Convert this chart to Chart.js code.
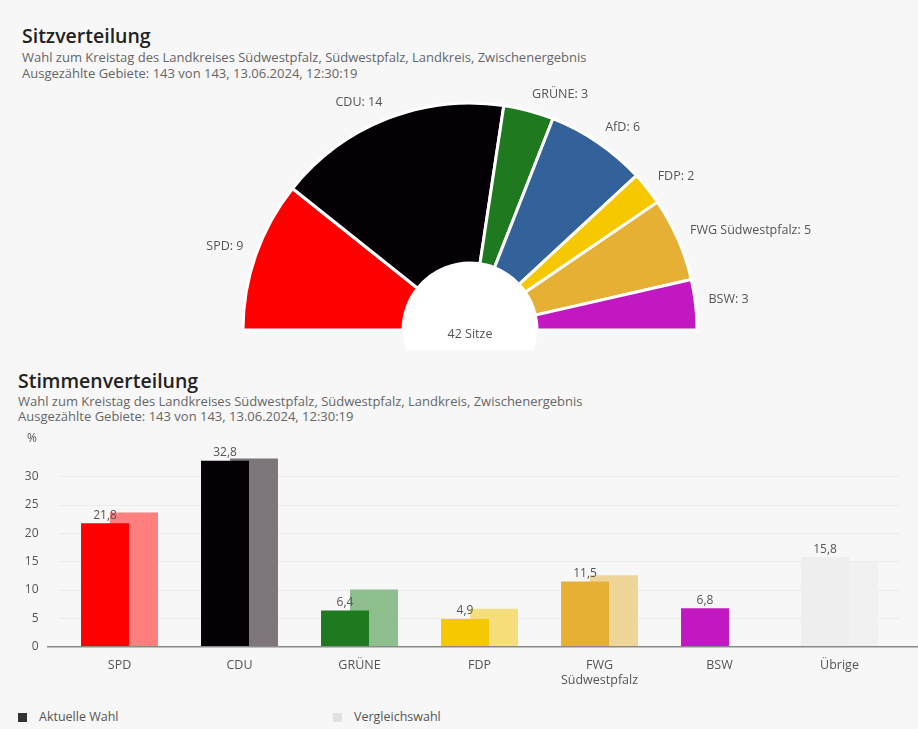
<!DOCTYPE html>
<html>
<head>
<meta charset="utf-8">
<script src="https://cdn.jsdelivr.net/npm/chart.js@4/dist/chart.umd.min.js"></script>
<style>
  body { margin: 0; background: #f7f7f7; font-family: "Open Sans", sans-serif; }
  #page { position: relative; width: 918px; height: 729px; overflow: hidden; }
  .title { position: absolute; font-size: 19.5px; font-weight: 600; color: #222; }
  .sub { position: absolute; font-size: 13px; color: #666; white-space: nowrap; }
  #seatWrap { position: absolute; left: 0; top: 80px; width: 918px; height: 270px; }
  #voteWrap { position: absolute; left: 0; top: 410px; width: 918px; height: 290px; }
  .legend { position: absolute; top: 708px; font-size: 12.5px; color: #555; }
  .legend span { display: inline-block; width: 9px; height: 9px; margin-right: 12px; vertical-align: -1px; }
</style>
</head>
<body>
<div id="page">
  <div class="title" style="left:22px;top:22px">Sitzverteilung</div>
  <div class="sub" style="left:22px;top:48px">Wahl zum Kreistag des Landkreises Südwestpfalz, Südwestpfalz, Landkreis, Zwischenergebnis</div>
  <div class="sub" style="left:22px;top:64px">Ausgezählte Gebiete: 143 von 143, 13.06.2024, 12:30:19</div>
  <div id="seatWrap"><canvas id="seatChart"></canvas></div>

  <div class="title" style="left:18px;top:367px">Stimmenverteilung</div>
  <div class="sub" style="left:18px;top:392px">Wahl zum Kreistag des Landkreises Südwestpfalz, Südwestpfalz, Landkreis, Zwischenergebnis</div>
  <div class="sub" style="left:18px;top:407px">Ausgezählte Gebiete: 143 von 143, 13.06.2024, 12:30:19</div>
  <div id="voteWrap"><canvas id="voteChart"></canvas></div>

  <div class="legend" style="left:18px"><span style="background:#333"></span>Aktuelle Wahl</div>
  <div class="legend" style="left:333px"><span style="background:#e2e2e2"></span>Vergleichswahl</div>
</div>
<script>
// Sitzverteilung
const seatParties = ['SPD', 'CDU', 'GRÜNE', 'AfD', 'FDP', 'FWG Südwestpfalz', 'BSW'];
const seats = [9, 14, 3, 6, 2, 5, 3];
const seatColors = ['#ff0000', '#050005', '#1f7a1f', '#336199', '#f5c800', '#e6b035', '#c118c1'];

// Stimmenverteilung
const voteParties = ['SPD', 'CDU', 'GRÜNE', 'FDP', ['FWG', 'Südwestpfalz'], 'BSW', 'Übrige'];
const currentVotes = [21.8, 32.8, 6.4, 4.9, 11.5, 6.8, 15.8];
const previousVotes = [23.7, 33.2, 10.1, 6.7, 12.6, null, 14.9];
const currentColors = ['#ff0000', '#050005', '#1f7a1f', '#f5c800', '#e6b035', '#c118c1', '#eeeeee'];
const previousColors = ['#ff7f7f', '#7d777b', '#8ebd8e', '#f6de7c', '#f0d598', '#e0a0e0', '#f1f1f1'];
const yTicks = [0, 5, 10, 15, 20, 25, 30];

Chart.defaults.font.family = '"Open Sans", sans-serif';
Chart.defaults.color = '#555';

const seatLabels = {
  id: 'seatLabels',
  beforeDatasetsDraw(chart) {
    const arc = chart.getDatasetMeta(0).data[0];
    if (!arc) return;
    const c = chart.ctx;
    c.save();
    c.fillStyle = '#ffffff';
    c.beginPath();
    c.arc(arc.x, arc.y, arc.innerRadius, 0, Math.PI * 2);
    c.fill();
    c.restore();
  },
  afterDatasetsDraw(chart) {
    const c = chart.ctx;
    const meta = chart.getDatasetMeta(0);
    c.save();
    c.font = '12.5px "Open Sans", sans-serif';
    c.fillStyle = '#555';
    c.textBaseline = 'middle';
    meta.data.forEach((a, i) => {
      const mid = (a.startAngle + a.endAngle) / 2;
      const r = a.outerRadius + 13;
      const x = a.x + Math.cos(mid) * r;
      const y = a.y + Math.sin(mid) * r - 4;
      c.textAlign = Math.cos(mid) < 0 ? 'right' : 'left';
      c.fillText(seatParties[i] + ': ' + seats[i], x, y);
    });
    const a0 = meta.data[0];
    c.textAlign = 'center';
    c.fillText(seats.reduce((s, v) => s + v, 0) + ' Sitze', a0.x, a0.y + 4);
    c.restore();
  }
};

new Chart(document.getElementById('seatChart'), {
  type: 'doughnut',
  data: {
    labels: seatParties,
    datasets: [{
      data: seats,
      backgroundColor: seatColors,
      borderColor: '#ffffff',
      borderWidth: 3
    }]
  },
  options: {
    responsive: true,
    maintainAspectRatio: false,
    animation: false,
    rotation: -90,
    circumference: 180,
    cutout: '29.5%',
    layout: { padding: { left: 241.5, right: 219.5, top: 21.5, bottom: 18.5 } },
    plugins: { legend: { display: false }, tooltip: { enabled: false } }
  },
  plugins: [seatLabels]
});

const barExtras = {
  id: 'barExtras',
  afterDraw(chart) {
    const c = chart.ctx;
    const y0 = chart.scales.y.getPixelForValue(0);
    c.save();
    c.strokeStyle = '#8a8a8a';
    c.lineWidth = 1.5;
    c.beginPath();
    c.moveTo(47, y0);
    c.lineTo(918, y0);
    c.stroke();
    c.font = '12px "Open Sans", sans-serif';
    c.fillStyle = '#555';
    c.textAlign = 'center';
    c.textBaseline = 'bottom';
    chart.getDatasetMeta(0).data.forEach((bar, i) => {
      c.fillText(currentVotes[i].toFixed(1).replace('.', ','), bar.x, bar.y - 2);
    });
    c.textAlign = 'right';
    c.textBaseline = 'middle';
    c.fillText('%', 37, chart.chartArea.top);
    c.restore();
  }
};

new Chart(document.getElementById('voteChart'), {
  type: 'bar',
  data: {
    labels: voteParties,
    datasets: [{
      label: 'Aktuelle Wahl',
      data: currentVotes,
      backgroundColor: currentColors,
      categoryPercentage: 0.483,
      barPercentage: 1.655
    }, {
      label: 'Vergleichswahl',
      data: previousVotes,
      backgroundColor: previousColors,
      categoryPercentage: 0.483,
      barPercentage: 1.655
    }]
  },
  options: {
    responsive: true,
    maintainAspectRatio: false,
    animation: false,
    layout: { padding: { left: 0, right: 18.5, top: 0, bottom: 0 } },
    scales: {
      x: {
        grid: { display: false },
        border: { display: false },
        ticks: { padding: 3, font: { size: 12.5 }, color: '#555', maxRotation: 0 },
        afterFit: axis => { axis.height = 53.3; }
      },
      y: {
        min: 0,
        max: 36.8,
        afterBuildTicks: axis => { axis.ticks = yTicks.map(v => ({ value: v })); },
        grid: { color: '#ebebeb', drawTicks: false },
        border: { display: false },
        ticks: { padding: 21, font: { size: 12 }, color: '#555' },
        afterFit: axis => { axis.width = 59.5; }
      }
    },
    plugins: { legend: { display: false }, tooltip: { enabled: false } }
  },
  plugins: [barExtras]
});
</script>
</body>
</html>
